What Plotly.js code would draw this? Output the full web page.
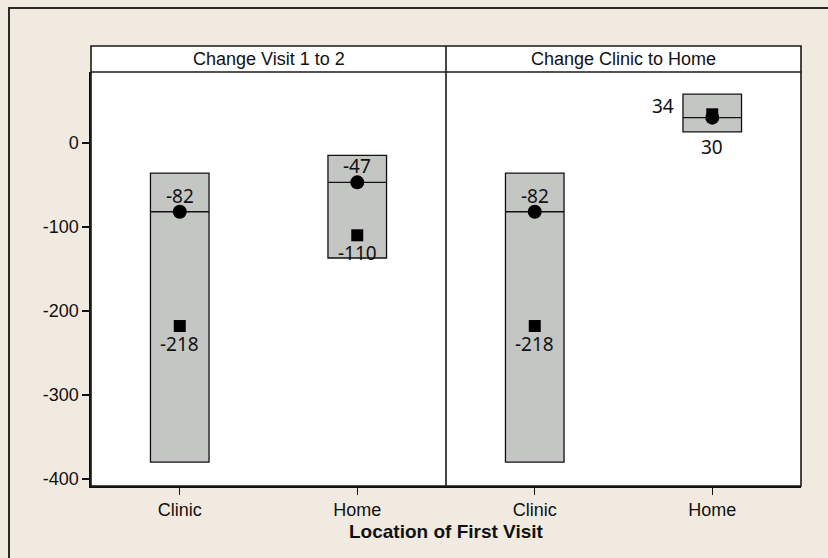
<!DOCTYPE html>
<html>
<head>
<meta charset="utf-8">
<script src="https://cdn.plot.ly/plotly-3.0.1.min.js"></script>
<style>
  html, body { margin: 0; padding: 0; background: rgb(241,234,224); }
  #wrap { position: relative; width: 828px; height: 558px; }
  #chart { width: 828px; height: 558px; }
  #frame { position: absolute; left: 8px; top: 7px; right: 0; bottom: 0;
           border-left: 2px solid #2b2b2b; border-top: 2px solid #2b2b2b; pointer-events: none; }
</style>
</head>
<body>
<div id="wrap"><div id="chart"></div><div id="frame"></div></div>
<script>
// ---- data ----
const categories = ['Clinic', 'Home'];
const panelTitles = ['Change Visit 1 to 2', 'Change Clinic to Home'];
const xAxisTitle = 'Location of First Visit';
const yTickVals = [0, -100, -200, -300, -400];
const yTickText = ['0', '-100', '-200', '-300', '-400'];

const boxLowP1 = [-380, -137];
const boxHighP1 = [-36, -15];
const circleP1 = [-82, -47];
const squareP1 = [-218, -110];

const boxLowP2 = [-380, 13];
const boxHighP2 = [-36, 58];
const circleP2 = [-82, 30];
const squareP2 = [-218, 34];

// ---- build ----
const BOX_W = 0.33;
const boxFill = 'rgb(196,198,196)';
const labelFont = { family: 'Noto Sans, Open Sans, sans-serif', size: 19, color: '#111' };
const axisFont = { family: 'Liberation Sans, Arial, sans-serif', size: 18, color: '#111' };

const panels = [
  { xa: 'x', low: boxLowP1, high: boxHighP1, circ: circleP1, sq: squareP1 },
  { xa: 'x2', low: boxLowP2, high: boxHighP2, circ: circleP2, sq: squareP2 }
];

const traces = [];
const annotations = [];
const xs = categories.map((c, i) => i);

panels.forEach(p => {
  traces.push({
    type: 'bar', xaxis: p.xa, yaxis: 'y', x: xs,
    base: p.low, y: p.high.map((h, i) => h - p.low[i]),
    width: BOX_W, marker: { color: boxFill, line: { color: '#111', width: 1.3 } },
    hoverinfo: 'skip', showlegend: false
  });
  const lx = [], ly = [];
  xs.forEach((x, i) => { lx.push(x - BOX_W / 2, x + BOX_W / 2, null); ly.push(p.circ[i], p.circ[i], null); });
  traces.push({ type: 'scatter', mode: 'lines', xaxis: p.xa, yaxis: 'y', x: lx, y: ly,
    line: { color: '#111', width: 1.3 }, hoverinfo: 'skip', showlegend: false });
  traces.push({ type: 'scatter', mode: 'markers', xaxis: p.xa, yaxis: 'y', x: xs, y: p.sq,
    marker: { symbol: 'square', size: 12, color: '#000' }, showlegend: false });
  traces.push({ type: 'scatter', mode: 'markers', xaxis: p.xa, yaxis: 'y', x: xs, y: p.circ,
    marker: { symbol: 'circle', size: 14, color: '#000' }, showlegend: false });

  xs.forEach((x, i) => {
    const small = (p.high[i] - p.low[i]) < 60;
    if (!small) {
      annotations.push({ xref: p.xa, yref: 'y', x: x, y: p.circ[i], text: String(p.circ[i]),
        showarrow: false, yanchor: 'middle', yshift: 16, font: labelFont });
      annotations.push({ xref: p.xa, yref: 'y', x: x, y: p.sq[i], text: String(p.sq[i]),
        showarrow: false, yanchor: 'middle', yshift: -18, font: labelFont });
    } else {
      annotations.push({ xref: p.xa, yref: 'y', x: x - BOX_W / 2, y: p.sq[i], text: String(p.sq[i]),
        showarrow: false, xanchor: 'right', yanchor: 'middle', xshift: -7, yshift: 8, font: labelFont });
      annotations.push({ xref: p.xa, yref: 'y', x: x, y: p.low[i], text: String(p.circ[i]),
        showarrow: false, yanchor: 'top', yshift: 0, font: labelFont });
    }
  });
});

const STRIP = 0.941;
panelTitles.forEach((t, k) => {
  annotations.push({ xref: 'paper', yref: 'paper', x: 0.25 + 0.5 * k, y: (STRIP + 1) / 2,
    text: t, showarrow: false, xanchor: 'center', yanchor: 'middle', font: axisFont });
});
annotations.push({ xref: 'paper', yref: 'paper', x: 0.5, y: 0, yshift: -45, text: '<b>' + xAxisTitle + '</b>',
  showarrow: false, xanchor: 'center', yanchor: 'middle',
  font: { family: 'Liberation Sans, Arial, sans-serif', size: 19, color: '#111' } });

const lineStyle = { color: '#1a1a1a', width: 1.6 };
const shapes = [
  { type: 'rect', xref: 'paper', yref: 'paper', x0: 0, x1: 1, y0: STRIP, y1: 1, fillcolor: '#fff', line: { width: 0 }, layer: 'below' },
  { type: 'rect', xref: 'paper', yref: 'paper', x0: 0, x1: 1, y0: 0, y1: 1, line: lineStyle, layer: 'above' },
  { type: 'line', xref: 'paper', yref: 'paper', x0: 0, x1: 1, y0: STRIP, y1: STRIP, line: lineStyle, layer: 'above' },
  { type: 'line', xref: 'paper', yref: 'paper', x0: 0.5, x1: 0.5, y0: 0, y1: 1, line: lineStyle, layer: 'above' }
];

const xCommon = {
  range: [-0.5, 1.5], tickvals: xs, ticktext: categories, ticks: 'outside', ticklen: 7,
  tickwidth: 1.3, tickcolor: '#111', showgrid: false, zeroline: false, showline: true,
  linecolor: '#111', linewidth: 1.6, tickfont: axisFont, fixedrange: true
};

const layout = {
  width: 828, height: 558,
  margin: { l: 91, r: 27, t: 46, b: 71.5 },
  paper_bgcolor: 'rgb(241,234,224)', plot_bgcolor: '#fff',
  showlegend: false, barmode: 'overlay',
  xaxis: Object.assign({ domain: [0, 0.5], anchor: 'y' }, xCommon),
  xaxis2: Object.assign({ domain: [0.5, 1], anchor: 'y' }, xCommon),
  yaxis: {
    domain: [0, STRIP], range: [-408.4, 84.4], tickvals: yTickVals, ticktext: yTickText,
    ticks: 'outside', ticklen: 7,
    tickwidth: 1.3, tickcolor: '#111', showgrid: false, zeroline: false, showline: true,
    linecolor: '#111', linewidth: 1.6, tickfont: axisFont, fixedrange: true
  },
  annotations: annotations,
  shapes: shapes
};

Plotly.newPlot('chart', traces, layout, { displayModeBar: false, staticPlot: true });
</script>
</body>
</html>
